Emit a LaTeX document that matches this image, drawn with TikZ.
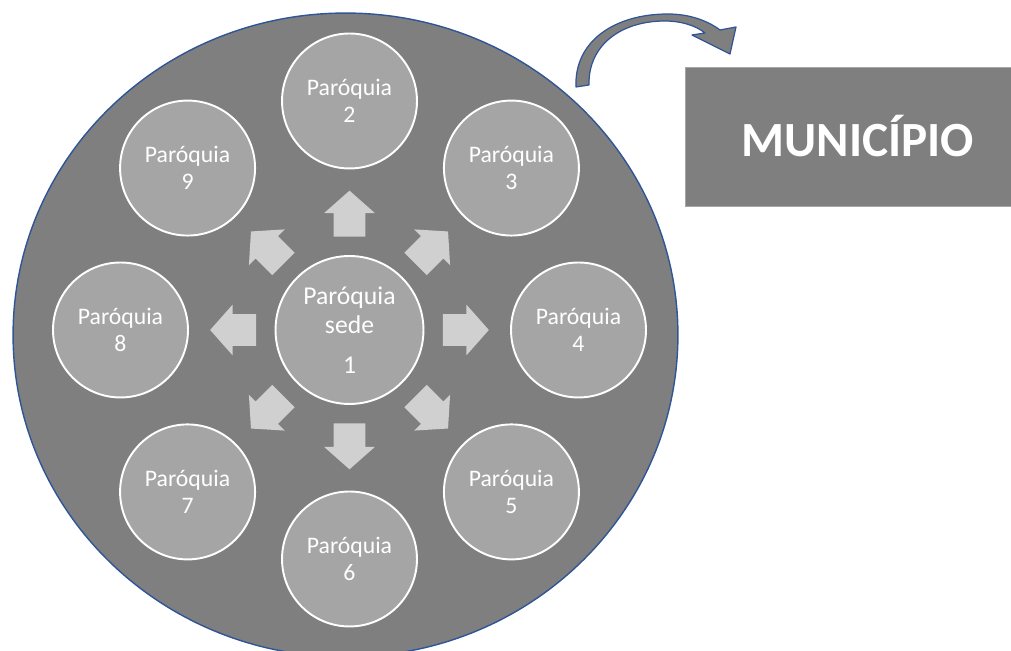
\documentclass[tikz,border=0pt]{standalone}
\usepackage{fontspec}
\setmainfont{Carlito}
\usetikzlibrary{shapes.geometric,shapes.arrows}
\definecolor{DiscGray}{HTML}{7F7F7F}
\definecolor{RimBlue}{HTML}{2F5597}
\definecolor{ParishGray}{HTML}{A5A5A5}
\definecolor{SpokeGray}{HTML}{D0D0D0}
\definecolor{BoxEdge}{HTML}{A6A6A6}

\begin{document}
\begin{tikzpicture}[
      x=0.02cm, y=0.02cm,
      disc/.style={
        ellipse,
        draw=RimBlue,
        line width=0.8pt,
        fill=DiscGray,
        minimum width=13.3cm,
        minimum height=12.88cm,
        inner sep=0pt
      },
      parish/.style={
        circle,
        draw=white,
        line width=1.1pt,
        fill=ParishGray,
        minimum size=2.7cm,
        inner sep=0pt,
        align=center,
        text=white,
        font=\fontsize{13.5}{15.2}\selectfont
      },
      seat/.style={
        parish,
        minimum size=2.96cm,
        font=\fontsize{14.6}{16.5}\selectfont
      },
      spoke/.style={
        single arrow,
        fill=SpokeGray,
        minimum height=0.92cm,
        minimum width=1cm,
        inner xsep=0pt,
        inner ysep=0.31cm,
        single arrow head extend=0.19cm,
        single arrow tip angle=97,
        single arrow head indent=0pt,
        anchor=tail
      },
      titlebox/.style={
        rectangle,
        fill=DiscGray,
        draw=BoxEdge,
        line width=0.4pt,
        minimum width=6.52cm,
        minimum height=2.78cm,
        text=white,
        font=\fontsize{28}{32}\selectfont\bfseries
      },
      hook/.style={fill=DiscGray, draw=RimBlue, line width=0.7pt, line join=round}
    ]
      \useasboundingbox (0,0) rectangle (1011,651);
      \node[disc] (area) at (345.5,316) {};
      \node[seat] (sede) at (349.5,321) {Paróquia\\sede\\[6.5pt]1};
      \foreach \n/\a in {2/90,3/45,4/0,5/-45,6/-90,7/-135,8/180,9/135}
        \node[parish] (p\n) at ([shift={(\a:229)}]sede.center) {Paróquia\\\n};
      \foreach \a in {0,45,...,315}
        \node[spoke, rotate=\a] (spoke\a) at ([shift={(\a:93)}]sede.center) {};
      \node[titlebox] (muni) at (848,514.5) {\hspace*{0.4cm}MUNICÍPIO};
      \filldraw[hook] (576,564) .. controls (574,610) and (615,637) .. (668,637)
        .. controls (690,637) and (708,630) .. (720,621)
        -- (736,624) -- (730,597) -- (692,616) -- (705,618)
        .. controls (695,626) and (680,630) .. (665,630)
        .. controls (620,630) and (588,605) .. (589,566) -- cycle;
    \end{tikzpicture}
\end{document}
